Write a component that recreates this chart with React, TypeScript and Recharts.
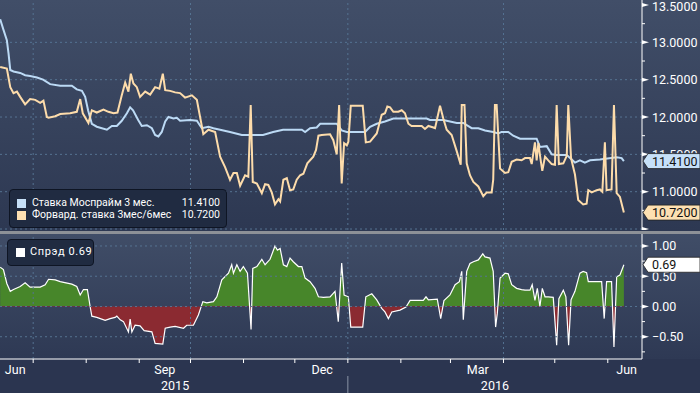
import React from "react";
import { ComposedChart, Line, Area, XAxis, YAxis, ReferenceLine } from "recharts";

const FONT = "Roboto, 'DejaVu Sans', sans-serif";

// x values are days counted from 1 Jun 2015
const monthStarts = [30, 61, 92, 122, 153, 183, 214, 245, 274, 305, 335, 366];
const gridDays = [30, 122, 214, 305];
const monthLabels = ["Jun", "Sep", "Dec", "Mar", "Jun"];
const monthLabelDays = [19.5, 107, 199, 290, 377];
const yearLabels = ["2015", "2016"];
const yearLabelDays = [113, 300];
const yearBreak = 214;

const rateTicks = [10.5, 10.75, 11, 11.25, 11.5, 11.75, 12, 12.25, 12.5, 12.75, 13, 13.25, 13.5];
const rateLabelled = [11, 11.5, 12, 12.5, 13, 13.5];
const rateGrid = [10.5, 11, 11.5, 12, 12.5, 13];
const spreadTicks = [-0.75, -0.5, -0.25, 0, 0.25, 0.5, 0.75, 1];
const spreadLabelled = [-0.5, 0, 0.5, 1];
const spreadGrid = [-0.5, 0, 0.5, 1];

const mosDays = [
  10.7, 12.6, 14.6, 15.6, 16.6, 18.5, 22.4, 25.3, 28.2, 32.2, 35.8, 39.9, 45.8, 52.6, 55.5, 58.5,
  60.4, 62.1, 64.3, 67.2, 73.1, 76.0, 78.9, 81.8, 84.8, 86.7, 88.4, 91.4, 93.5, 96.5, 99.4, 101.3,
  103.2, 105.2, 107.2, 109.1, 112.0, 114.0, 115.9, 121.8, 125.7, 128.6, 132.5, 135.4, 139.3, 145.1,
  152.0, 164.4, 170.3, 176.1, 187.1, 189.0, 191.9, 195.8, 197.8, 207.5, 210.4, 213.4, 224.1, 227.0,
  230.9, 235.7, 240.6, 260.1, 262.0, 269.8, 277.7, 281.5, 286.4, 290.3, 294.2, 299.0, 302.0, 303.9,
  307.8, 310.7, 314.7, 324.4, 326.3, 330.3, 333.2, 336.1, 342.0, 344.9, 346.8, 349.7, 352.6, 355.6,
  361.4, 371.2, 374.1, 375.4,
];
const mosValues = [
  13.31, 13.17, 13.03, 12.85, 12.63, 12.61, 12.59, 12.56, 12.55, 12.53, 12.5, 12.44, 12.42, 12.42, 12.37, 12.35,
  12.27, 12.09, 11.91, 11.87, 11.83, 11.88, 11.88, 11.95, 12.05, 12.13, 12.09, 11.96, 11.88, 11.89, 11.85, 11.76,
  11.74, 11.8, 11.94, 12.0, 11.98, 11.99, 11.95, 11.96, 11.95, 11.85, 11.87, 11.85, 11.83, 11.8,
  11.76, 11.76, 11.8, 11.83, 11.83, 11.8, 11.85, 11.86, 11.91, 11.91, 11.82, 11.8, 11.8, 11.87,
  11.91, 11.94, 11.98, 11.98, 11.96, 11.96, 11.92, 11.92, 11.85, 11.85, 11.82, 11.8, 11.78, 11.8,
  11.8, 11.75, 11.71, 11.71, 11.6, 11.61, 11.5, 11.49, 11.49, 11.43, 11.39, 11.42, 11.39, 11.42,
  11.43, 11.46, 11.45, 11.41,
];

const fwdDays = [
  10.7, 14.6, 16.6, 18.5, 20.5, 22.4, 25.3, 28.2, 31.2, 34.1, 36.0, 38.0, 39.0, 42.9, 45.8, 51.6,
  55.5, 57.5, 59.0, 62.3, 64.3, 67.2, 71.1, 74.0, 77.0, 79.3, 81.8, 83.8, 85.7, 87.1, 88.6, 90.6,
  92.5, 95.5, 98.4, 101.3, 103.8, 105.8, 107.2, 110.1, 113.0, 115.9, 118.8, 122.8, 125.7, 127.6,
  129.5, 132.5, 136.4, 139.3, 142.2, 145.1, 147.1, 149.1, 151.0, 153.9, 155.8, 157.2, 158.4, 160.8,
  163.7, 165.6, 167.5, 169.5, 171.4, 173.4, 174.4, 176.3, 178.3, 180.2, 182.1, 184.1, 186.1, 188.0,
  190.3, 193.8, 195.4, 196.8, 198.7, 203.6, 205.5, 207.5, 208.9, 210.4, 211.8, 213.4, 214.3, 215.7,
  222.7, 224.5, 227.0, 230.9, 233.8, 235.7, 237.1, 238.7, 240.6, 243.5, 245.5, 247.4, 249.4, 251.3,
  257.2, 259.1, 261.1, 264.0, 265.0, 267.9, 269.8, 271.8, 274.7, 277.7, 280.0, 280.6, 282.2, 283.5,
  285.4, 287.4, 290.3, 293.2, 295.2, 298.1, 299.0, 300.0, 301.0, 303.0, 305.9, 307.8, 309.8, 312.7,
  315.6, 317.6, 320.5, 321.5, 323.4, 324.4, 325.4, 326.7, 327.7, 329.3, 331.2, 333.2, 335.1, 336.1,
  337.4, 340.0, 342.0, 342.9, 344.5, 346.8, 348.7, 351.6, 353.6, 354.6, 356.6, 359.5, 361.4, 362.8,
  364.3, 365.3, 368.2, 369.6, 371.2, 373.1, 375.4,
];
const fwdValues = [
  12.67, 12.65, 12.4, 12.32, 12.34, 12.27, 12.17, 12.24, 12.23, 12.19, 12.22, 12.0, 11.99, 12.01, 12.04, 12.05,
  12.07, 12.24, 12.05, 11.92, 12.09, 12.06, 12.1, 12.07, 12.05, 12.06, 12.29, 12.46, 12.34, 12.58, 12.45, 12.4,
  12.27, 12.34, 12.3, 12.4, 12.38, 12.58, 12.36, 12.35, 12.33, 12.32, 12.26, 12.29, 12.23, 12.0,
  11.77, 11.83, 11.8, 11.47, 11.33, 11.16, 11.25, 11.25, 11.08, 11.22, 11.2, 12.16, 11.13, 11.11,
  10.98, 11.1, 11.09, 10.99, 10.83, 10.9, 10.87, 11.16, 11.18, 11.02, 11.03, 11.16, 11.22, 11.24,
  11.38, 11.47, 11.56, 11.75, 11.76, 11.77, 11.69, 11.5, 12.16, 11.11, 11.65, 11.62, 11.67, 12.15,
  12.15, 11.66, 11.67, 11.78, 12.03, 12.05, 12.14, 12.13, 12.07, 12.07, 12.09, 12.05, 11.91, 11.88,
  11.88, 11.84, 11.88, 11.86, 11.85, 12.15, 11.98, 11.83, 11.76, 11.54, 11.36, 12.16, 12.16, 11.38,
  11.22, 11.13, 11.07, 10.94, 10.99, 10.99, 11.16, 12.16, 12.16, 11.31, 11.25, 11.26, 11.4, 11.43,
  11.42, 11.45, 11.45, 11.37, 11.66, 11.42, 11.65, 11.43, 11.28, 11.47, 11.42, 11.37, 11.36, 12.16,
  11.37, 11.38, 11.48, 12.16, 11.45, 11.23, 10.89, 10.83, 10.84, 11.02, 10.99, 11.02, 11.03, 11.0,
  11.66, 11.02, 11.03, 12.16, 10.98, 10.93, 10.72,
];

const spreadDays = [
  10.7, 12.6, 14.6, 16.6, 18.5, 22.4, 25.3, 28.2, 34.1, 37.0, 39.0, 42.9, 45.8, 52.6, 55.5, 57.5,
  59.4, 61.7, 63.3, 64.3, 67.2, 72.1, 75.0, 77.9, 78.9, 80.9, 82.8, 85.7, 86.7, 87.7, 89.6, 92.5,
  94.9, 99.4, 101.3, 105.8, 107.2, 110.1, 113.0, 117.9, 119.8, 123.7, 126.6, 129.2, 131.5, 135.4,
  137.4, 140.3, 144.2, 146.1, 147.1, 149.1, 151.0, 152.9, 155.3, 157.4, 158.4, 160.8, 163.7, 165.6,
  168.5, 171.4, 172.8, 174.4, 176.3, 178.3, 180.2, 182.1, 185.1, 187.1, 189.0, 191.9, 194.8, 196.8,
  199.7, 203.6, 206.5, 208.4, 210.4, 211.8, 214.3, 215.7, 222.7, 224.5, 228.0, 230.9, 233.8, 235.7,
  237.7, 239.7, 244.5, 248.0, 250.4, 258.1, 259.7, 261.1, 266.3, 268.3, 270.2, 273.7, 276.7, 279.2,
  280.6, 281.5, 283.5, 285.4, 287.4, 290.3, 292.9, 294.2, 297.1, 299.0, 300.4, 301.4, 303.0, 305.9,
  307.8, 309.8, 312.7, 315.6, 317.6, 320.5, 321.8, 323.4, 324.8, 326.3, 327.7, 329.3, 331.2, 334.1,
  336.1, 337.4, 340.0, 341.5, 343.1, 344.5, 346.8, 349.7, 351.6, 353.6, 354.6, 362.4, 363.9, 365.3,
  368.2, 369.6, 371.2, 373.1, 375.4,
];
const spreadValues = [
  0.65, 0.61, 0.38, 0.25, 0.28, 0.33, 0.39, 0.32, 0.32, 0.36, 0.45, 0.44, 0.41, 0.37, 0.33, 0.19,
  0.28, 0.28, 0.0, -0.16, -0.18, -0.23, -0.2, -0.18, -0.16, -0.22, -0.25, -0.42, -0.21, -0.42, -0.31, -0.32,
  -0.4, -0.42, -0.61, -0.62, -0.36, -0.34, -0.33, -0.36, -0.31, -0.31, -0.14, 0.08, 0.06, 0.08,
  0.16, 0.44, 0.55, 0.69, 0.55, 0.69, 0.58, 0.66, 0.55, -0.38, 0.63, 0.66, 0.78, 0.69,
  0.78, 1.0, 0.93, 0.96, 0.69, 0.66, 0.8, 0.74, 0.66, 0.66, 0.47, 0.41, 0.3, 0.16,
  0.15, 0.16, 0.25, -0.25, 0.72, 0.19, 0.16, -0.34, -0.34, 0.16, 0.21, 0.11, -0.03, -0.09,
  -0.2, -0.09, -0.06, -0.01, 0.1, 0.1, 0.16, 0.11, 0.12, -0.2, 0.1, 0.19, 0.36, 0.41,
  0.58, -0.22, 0.58, 0.71, 0.74, 0.77, 0.87, 0.82, 0.8, 0.58, -0.34, -0.11, 0.47, 0.55,
  0.54, 0.36, 0.3, 0.28, 0.27, 0.27, 0.36, 0.1, 0.3, 0.0, 0.3, 0.16, 0.16, 0.15,
  -0.64, 0.13, 0.27, 0.16, -0.64, 0.11, 0.25, 0.55, 0.58, 0.56, 0.41, 0.41, -0.2, 0.41,
  0.41, -0.67, 0.49, 0.52, 0.69,
];

const mosData = mosDays.map((d, i) => ({ d, v: mosValues[i] }));
const fwdData = fwdDays.map((d, i) => ({ d, v: fwdValues[i] }));
const spreadData = spreadDays.map((d, i) => ({ d, v: spreadValues[i] }));

const mosLast = mosValues[mosValues.length - 1];
const fwdLast = fwdValues[fwdValues.length - 1];
const spreadLast = spreadValues[spreadValues.length - 1];

const sMax = Math.max(...spreadValues);
const sMin = Math.min(...spreadValues);
const zeroOffset = sMax / (sMax - sMin);

const X_DOMAIN = [10.6, 386];
const GRID = "#557392";

type Box = { value: number; fill: string };

const makeYTick = (labelled: number[], digits: number, boxes: Box[]) => (props: any) => {
  const { x, y, payload } = props;
  const v = payload.value;
  const box = boxes.find((b) => b.value === v);
  if (box) {
    return (
      <g>
        <polygon
          points={`${x + 1},${y} ${x + 6},${y - 7.5} ${x + 58},${y - 7.5} ${x + 58},${y + 7.5} ${x + 6},${y + 7.5}`}
          fill={box.fill}
          stroke="#222"
          strokeWidth={0.8}
        />
        <text x={x + 10} y={y + 4.5} fill="#111" fontSize={12.5} fontFamily={FONT}>
          {v.toFixed(digits)}
        </text>
      </g>
    );
  }
  const major = labelled.includes(v) || Math.abs(v * 2 - Math.round(v * 2)) < 1e-6;
  if (!major) {
    return <line x1={x} x2={x + 3} y1={y} y2={y} stroke="#fff" strokeWidth={1} />;
  }
  const ty = Math.max(y, 6) + 4.5;
  return (
    <g>
      <polygon points={`${x},${y - 2} ${x + 7},${y} ${x},${y + 2}`} fill="#fff" />
      {labelled.includes(v) && (
        <text x={x + 10} y={ty} fill="#fff" fontSize={12.5} fontFamily={FONT}>
          {v < 0 ? "\u2212" + Math.abs(v).toFixed(digits) : v.toFixed(digits)}
        </text>
      )}
    </g>
  );
};

const rateTick = makeYTick(rateLabelled, 4, [
  { value: mosLast, fill: "#c6e0f8" },
  { value: fwdLast, fill: "#fde0b2" },
]);
const spreadTick = makeYTick(spreadLabelled, 2, [{ value: spreadLast, fill: "#ffffff" }]);

const xTicks = [...monthStarts, ...monthLabelDays, ...yearLabelDays];

const DateTick = (props: any) => {
  const { x, y, payload } = props;
  const v = payload.value;
  const mi = monthLabelDays.indexOf(v);
  const yi = yearLabelDays.indexOf(v);
  return (
    <g>
      {monthStarts.includes(v) && <line x1={x} x2={x} y1={y} y2={y + 4} stroke="#fff" strokeWidth={1} />}
      {v === yearBreak && <line x1={x} x2={x} y1={y + 17} y2={y + 40} stroke="#8a93a6" strokeWidth={1} />}
      {mi >= 0 && (
        <text x={x} y={y + 15} textAnchor="middle" fill="#fff" fontSize={12.5} fontFamily={FONT}>
          {monthLabels[mi]}
        </text>
      )}
      {yi >= 0 && (
        <text x={x} y={y + 30.5} textAnchor="middle" fill="#fff" fontSize={12.5} fontFamily={FONT}>
          {yearLabels[yi]}
        </text>
      )}
    </g>
  );
};

export default function App() {
  return (
    <div
      style={{
        position: "absolute",
        left: 0,
        top: 0,
        width: 700,
        height: 393,
        overflow: "hidden",
        background: "#2b3550",
        fontFamily: FONT,
      }}
    >
      <div style={{ position: "absolute", left: 0, top: 0, width: 700, height: 231, background: "linear-gradient(#414e68, #2d3852)" }} />
      <div style={{ position: "absolute", left: 0, top: 231, width: 700, height: 3, background: "#8d9197" }} />
      <div style={{ position: "absolute", left: 0, top: 234, width: 700, height: 125, background: "linear-gradient(#404d67, #2e3954)" }} />

      <div style={{ position: "absolute", left: 0, top: 0 }}>
        <ComposedChart width={700} height={230} margin={{ top: 0, right: 0, bottom: 0, left: 0 }}>
          <XAxis dataKey="d" type="number" domain={X_DOMAIN} allowDataOverflow hide />
          <YAxis
            orientation="right"
            width={58}
            type="number"
            domain={[10.487, 13.567]}
            allowDataOverflow
            ticks={[...rateTicks, mosLast, fwdLast]}
            interval={0}
            tickSize={0}
            tickMargin={0}
            tickLine={false}
            axisLine={{ stroke: "#ffffff", strokeWidth: 1 }}
            tick={rateTick}
          />
          {rateGrid.map((g) => (
            <ReferenceLine key={`rg-${g}`} y={g} stroke={GRID} strokeDasharray="2 3" />
          ))}
          {gridDays.map((g) => (
            <ReferenceLine key={`rv-${g}`} x={g} stroke={GRID} strokeDasharray="2 3" />
          ))}
          <Line
            data={mosData}
            dataKey="v"
            type="linear"
            stroke="#bcdaf5"
            strokeWidth={2}
            dot={false}
            activeDot={false}
            isAnimationActive={false}
          />
          <Line
            data={fwdData}
            dataKey="v"
            type="linear"
            stroke="#fddcab"
            strokeWidth={2}
            dot={false}
            activeDot={false}
            isAnimationActive={false}
          />
        </ComposedChart>
      </div>

      <div style={{ position: "absolute", left: 0, top: 234 }}>
        <ComposedChart width={700} height={159} margin={{ top: 0, right: 0, bottom: 0, left: 0 }}>
          <defs>
            <linearGradient id="spreadFill" x1="0" y1="0" x2="0" y2="1">
              <stop offset={zeroOffset} stopColor="#47862a" />
              <stop offset={zeroOffset} stopColor="#8b2a31" />
            </linearGradient>
          </defs>
          <XAxis
            dataKey="d"
            type="number"
            domain={X_DOMAIN}
            allowDataOverflow
            height={34}
            ticks={xTicks}
            interval={0}
            tickSize={0}
            tickMargin={0}
            tickLine={false}
            axisLine={{ stroke: "#ffffff", strokeWidth: 1 }}
            tick={DateTick}
          />
          <YAxis
            orientation="right"
            width={58}
            type="number"
            domain={[-0.868, 1.198]}
            allowDataOverflow
            ticks={[...spreadTicks, spreadLast]}
            interval={0}
            tickSize={0}
            tickMargin={0}
            tickLine={false}
            axisLine={{ stroke: "#ffffff", strokeWidth: 1 }}
            tick={spreadTick}
          />
          {spreadGrid.map((g) => (
            <ReferenceLine key={`sg-${g}`} y={g} stroke={GRID} strokeDasharray="2 3" />
          ))}
          {gridDays.map((g) => (
            <ReferenceLine key={`sv-${g}`} x={g} stroke={GRID} strokeDasharray="2 3" />
          ))}
          <Area
            data={spreadData}
            dataKey="v"
            type="linear"
            baseValue={0}
            stroke="#ffffff"
            strokeWidth={1.2}
            fill="url(#spreadFill)"
            fillOpacity={1}
            dot={false}
            activeDot={false}
            isAnimationActive={false}
          />
        </ComposedChart>
      </div>

      <div
        style={{
          position: "absolute",
          left: 9,
          top: 189,
          width: 216,
          height: 37,
          background: "#202b41",
          border: "1px solid #0e1524",
          borderRadius: 4,
          color: "#fff",
          fontSize: 10.5,
          whiteSpace: "nowrap",
        }}
      >
        <div style={{ position: "absolute", left: 7, top: 9, width: 9, height: 9, background: "#c6e0f8" }} />
        <div style={{ position: "absolute", left: 22, top: 6, lineHeight: "14px" }}>Ставка Моспрайм 3 мес.</div>
        <div style={{ position: "absolute", right: 6, top: 6, lineHeight: "14px" }}>{mosLast.toFixed(4)}</div>
        <div style={{ position: "absolute", left: 7, top: 21, width: 9, height: 9, background: "#fde0b2" }} />
        <div style={{ position: "absolute", left: 22, top: 18, lineHeight: "14px" }}>Форвард. ставка 3мес/6мес</div>
        <div style={{ position: "absolute", right: 6, top: 18, lineHeight: "14px" }}>{fwdLast.toFixed(4)}</div>
      </div>

      <div
        style={{
          position: "absolute",
          left: 7,
          top: 239,
          width: 85,
          height: 25,
          background: "#202b41",
          border: "1px solid #0e1524",
          borderRadius: 4,
          color: "#fff",
          fontSize: 11,
          whiteSpace: "nowrap",
        }}
      >
        <div style={{ position: "absolute", left: 8, top: 8, width: 9, height: 9, background: "#ffffff" }} />
        <div style={{ position: "absolute", left: 22, top: 5, lineHeight: "14px", letterSpacing: 0.6 }}>
          Спрэд {spreadLast.toFixed(2)}
        </div>
      </div>
    </div>
  );
}
